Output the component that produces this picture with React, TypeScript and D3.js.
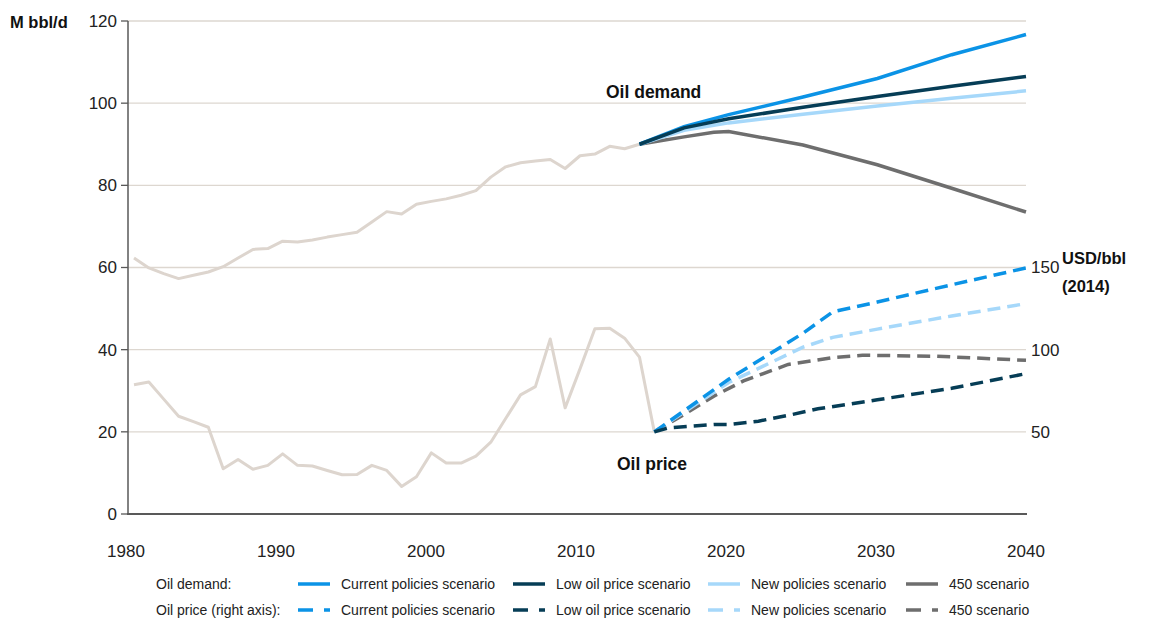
import React from 'react';
import * as d3 from 'd3';

// ---------- DATA ----------
const histDemandYears = d3.range(1980, 2015);
const histDemand = [
  62.3, 59.9, 58.5, 57.3, 58.1, 58.9, 60.2, 62.3, 64.4, 64.6,
  66.4, 66.2, 66.7, 67.4, 68.0, 68.6, 71.1, 73.6, 73.0, 75.4,
  76.1, 76.7, 77.6, 78.7, 82.0, 84.5, 85.5, 85.9, 86.3, 84.1,
  87.2, 87.6, 89.5, 88.9, 90.0,
];

const histPriceYears = d3.range(1980, 2016);
const histPrice = [
  78.7, 80.3, 69.9, 59.5, 56.2, 52.8, 27.5, 33.2, 27.2, 29.6,
  36.6, 29.6, 29.2, 26.5, 23.9, 24.0, 29.6, 26.5, 16.8, 22.7,
  37.2, 31.0, 31.0, 35.2, 43.7, 58.1, 72.5, 77.5, 106.5, 64.6,
  88.3, 112.7, 113.1, 107.0, 95.5, 50.0,
];

const demandYears = [2014, 2017, 2020, 2025, 2030, 2035, 2040];
const demandCurrent = [90.0, 94.3, 97.2, 101.5, 106.0, 111.8, 116.7];
const demandLow = [90.0, 94.0, 96.2, 99.0, 101.6, 104.1, 106.5];
const demandNew = [90.0, 93.4, 95.2, 97.3, 99.3, 101.2, 103.0];
const demand450Years = [2014, 2017, 2019, 2020, 2025, 2030, 2035, 2040];
const demand450 = [90.0, 91.8, 92.9, 93.1, 89.8, 85.0, 79.3, 73.5];

const priceCurrentYears = [2015, 2020, 2025, 2027, 2030, 2035, 2040];
const priceCurrent = [50, 82, 110, 123, 129, 139.5, 149.7];
const priceNewYears = [2015, 2020, 2025, 2027, 2030, 2035, 2040];
const priceNew = [50, 80, 101.5, 107.5, 112.5, 120.5, 128];
const price450Years = [2015, 2017, 2019, 2021, 2024, 2027, 2029, 2034, 2040];
const price450 = [50, 60.5, 71.7, 81, 91, 95.2, 96.6, 96, 93.5];
const priceLowYears = [2015, 2016, 2019, 2020, 2022, 2024, 2026, 2030, 2033, 2035, 2040];
const priceLow = [50, 52.5, 54.5, 54.5, 56.5, 60, 64, 69.5, 73.7, 76.5, 85.4];

const leftTicks = [0, 20, 40, 60, 80, 100, 120];
const rightTicks = [50, 100, 150];
const xTicks = [1980, 1990, 2000, 2010, 2020, 2030, 2040];

const scenarioNames = ['Current policies scenario', 'Low oil price scenario', 'New policies scenario', '450 scenario'];

// ---------- STYLE ----------
const C_CUR = '#0b93e6';
const C_LOW = '#063d56';
const C_NEW = '#a6d8fa';
const C_450 = '#6e6e6e';
const C_HIST = '#ddd5ce';
const C_GRID = '#ddd7d0';
const C_AXIS = '#595959';
const FONT = '"Liberation Sans Narrow", "Liberation Sans", Arial, sans-serif';
const FONT_W = '"Liberation Sans", Arial, sans-serif';

export default function App() {
  const x = d3.scaleLinear().domain([1980, 2040]).range([134, 1026]);
  const xLab = d3.scaleLinear().domain([1980, 2040]).range([126, 1026]);
  const yL = d3.scaleLinear().domain([0, 120]).range([514, 21]);
  const yR = d3.scaleLinear().domain([0, 300]).range([514, 21]);

  const lineL = (ys: number[], vs: number[]) =>
    d3.line<number>().x((_, i) => x(ys[i])).y((v) => yL(v))(vs) as string;
  const lineR = (ys: number[], vs: number[]) =>
    d3.line<number>().x((_, i) => x(ys[i])).y((v) => yR(v))(vs) as string;

  const DASH = '13,7';
  const SW = 3.5;

  const demandSeries = [
    { ys: demand450Years, vs: demand450, c: C_450 },
    { ys: demandYears, vs: demandNew, c: C_NEW },
    { ys: demandYears, vs: demandCurrent, c: C_CUR },
    { ys: demandYears, vs: demandLow, c: C_LOW },
  ];
  const priceSeries = [
    { ys: price450Years, vs: price450, c: C_450 },
    { ys: priceNewYears, vs: priceNew, c: C_NEW },
    { ys: priceCurrentYears, vs: priceCurrent, c: C_CUR },
    { ys: priceLowYears, vs: priceLow, c: C_LOW },
  ];

  const legendColors = [C_CUR, C_LOW, C_NEW, C_450];
  const legendSwatchX = [298, 513, 708, 906];

  return (
    <svg width={1167} height={621} style={{ position: 'absolute', left: 0, top: 0, background: '#fff' }}>
      {/* gridlines */}
      {leftTicks.filter((t) => t > 0).map((t) => (
        <line key={'g' + t} x1={128} x2={1026} y1={yL(t)} y2={yL(t)} stroke={C_GRID} strokeWidth={1.3} />
      ))}
      {/* axes */}
      <line x1={128} x2={128} y1={yL(120)} y2={yL(0)} stroke={C_AXIS} strokeWidth={1.5} />
      <line x1={127} x2={1027} y1={yL(0)} y2={yL(0)} stroke={C_AXIS} strokeWidth={2} />
      {leftTicks.map((t) => (
        <g key={'lt' + t}>
          <line x1={121} x2={128} y1={yL(t)} y2={yL(t)} stroke={C_AXIS} strokeWidth={1.3} />
          <text x={117} y={yL(t)} dy="0.35em" textAnchor="end" fontFamily={FONT_W} fontSize={17} fill="#222">{t}</text>
        </g>
      ))}
      {rightTicks.map((t) => (
        <text key={'rt' + t} x={1031} y={yR(t)} dy="0.35em" textAnchor="start" fontFamily={FONT_W} fontSize={17} fill="#222">{t}</text>
      ))}
      {xTicks.map((t) => (
        <text key={'xt' + t} x={xLab(t)} y={557} textAnchor="middle" fontFamily={FONT_W} fontSize={17} fill="#222">{t}</text>
      ))}

      {/* axis titles */}
      <text x={10} y={28} fontFamily={FONT_W} fontSize={16.5} fontWeight="bold" fill="#111">M bbl/d</text>
      <text x={1062} y={264} fontFamily={FONT_W} fontSize={16.5} fontWeight="bold" fill="#111">USD/bbl</text>
      <text x={1062} y={292} fontFamily={FONT_W} fontSize={16.5} fontWeight="bold" fill="#111">(2014)</text>

      {/* history */}
      <path d={lineL(histDemandYears, histDemand)} fill="none" stroke={C_HIST} strokeWidth={3} strokeLinejoin="round" />
      <path d={lineR(histPriceYears, histPrice)} fill="none" stroke={C_HIST} strokeWidth={3} strokeLinejoin="round" />

      {/* projections */}
      {demandSeries.map((s, i) => (
        <path key={'d' + i} d={lineL(s.ys, s.vs)} fill="none" stroke={s.c} strokeWidth={SW} />
      ))}
      {priceSeries.map((s, i) => (
        <path key={'p' + i} d={lineR(s.ys, s.vs)} fill="none" stroke={s.c} strokeWidth={SW} strokeDasharray={DASH} />
      ))}

      {/* annotations */}
      <text x={606} y={98} fontFamily={FONT_W} fontSize={17.5} fontWeight="bold" fill="#111">Oil demand</text>
      <text x={617} y={470} fontFamily={FONT_W} fontSize={17.5} fontWeight="bold" fill="#111">Oil price</text>

      {/* legend */}
      <text x={156} y={584} dy="0.35em" fontFamily={FONT} fontSize={14} fill="#222">Oil demand:</text>
      <text x={156} y={610} dy="0.35em" fontFamily={FONT} fontSize={14} fill="#222">Oil price (right axis):</text>
      {scenarioNames.map((n, i) => (
        <g key={'lg' + i}>
          <line x1={legendSwatchX[i]} x2={legendSwatchX[i] + 32} y1={584} y2={584} stroke={legendColors[i]} strokeWidth={SW} />
          <text x={legendSwatchX[i] + 43} y={584} dy="0.35em" fontFamily={FONT} fontSize={14} fill="#222">{n}</text>
          <line x1={legendSwatchX[i]} x2={legendSwatchX[i] + 32} y1={610} y2={610} stroke={legendColors[i]} strokeWidth={SW} strokeDasharray="15,11" />
          <text x={legendSwatchX[i] + 43} y={610} dy="0.35em" fontFamily={FONT} fontSize={14} fill="#222">{n}</text>
        </g>
      ))}
    </svg>
  );
}
